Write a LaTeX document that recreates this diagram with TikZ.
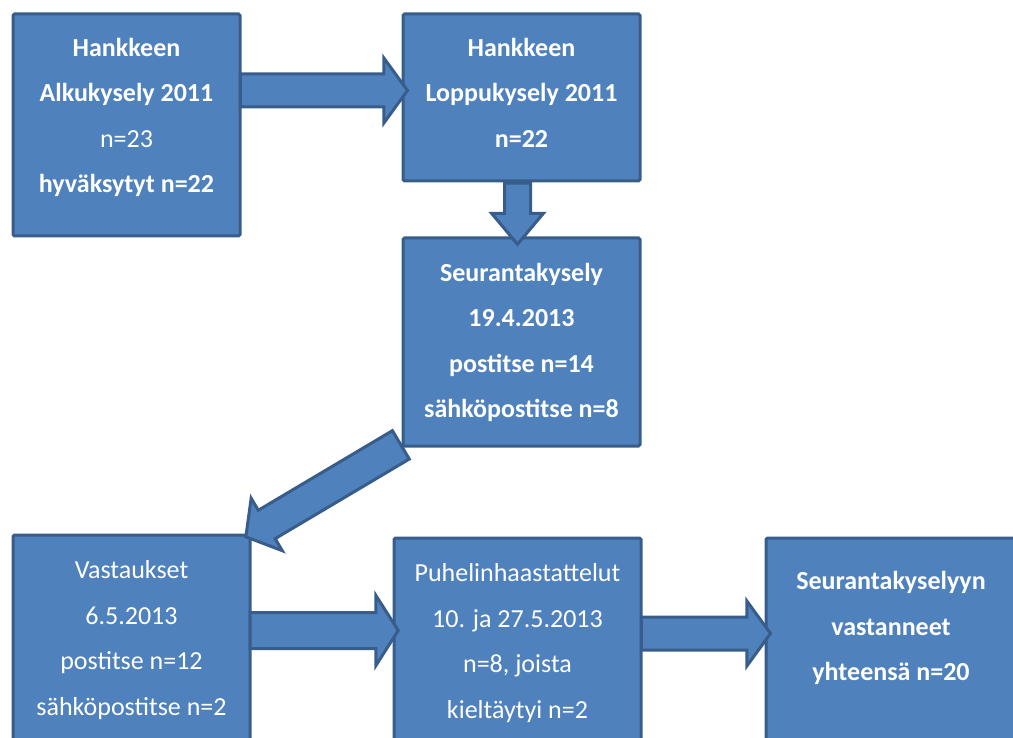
\documentclass[tikz,border=0pt]{standalone}
\usepackage{fontspec}
\setmainfont{Carlito}
\usetikzlibrary{positioning,calc,shapes.arrows}

\definecolor{boxfill}{HTML}{4F81BD}
\definecolor{boxline}{HTML}{385D8A}

\tikzset{
  stagebox/.style={draw=boxline, fill=boxfill, line width=3pt, rounded corners=1.5pt, inner sep=0pt},
  stagetext/.style={text=white, align=center, anchor=base, inner sep=0pt, font=\fontsize{26}{45.5}\selectfont},
  flow/.style={single arrow, draw=boxline, fill=boxfill, line width=3pt, inner xsep=0pt, line join=miter}
}

% #1 name, #2 options, #3 from, #4 to
\newcommand\blockarrow[4]{%
  \path let \p1=($(#4)-(#3)$) in
    node[flow, #2, minimum height={veclen(\x1,\y1)}, rotate={atan2(\y1,\x1)}] (#1) at ($(#3)!0.5!(#4)$) {};
}

\begin{document}
\begin{tikzpicture}[x=1pt, y=-1pt]
    \useasboundingbox (0,0) rectangle (1013,738);
    \clip (0,0) rectangle (1013,738);

    % boxes
    \node[stagebox, minimum width=227, minimum height=222] (alku) at (126.5,125) {};
    \node[stagebox, minimum width=237, minimum height=167] (loppu) at (521.5,97.5) {};
    \node[stagebox, minimum width=237, minimum height=208] (seuranta) at (521.5,342) {};
    \node[stagebox, minimum width=237, minimum height=230] (vastaukset) at (131.5,650) {};
    \node[stagebox, minimum width=247, minimum height=230] (puhelin) at (517.5,653) {};
    \node[stagebox, minimum width=250, minimum height=230] (yhteensa) at (891,653) {};

    % texts (base = baseline of the last line)
    \node[stagetext] (alkutxt) at ($(alku.north)+(0,180.5)$)
        {\textbf{Hankkeen}\\ \textbf{Alkukysely 2011}\\ n=23\\ \textbf{hyväksytyt n=22}};
    \node[stagetext, font=\fontsize{26}{45.5}\selectfont\bfseries] (lopputxt) at ($(loppu.north)+(0,135)$)
        {Hankkeen\\ Loppukysely 2011\\ n=22};
    \node[stagetext, font=\fontsize{26}{45.5}\selectfont\bfseries] (seurantatxt) at ($(seuranta.north)+(0,181)$)
        {Seurantakysely\\ 19.4.2013\\ postitse n=14\\ sähköpostitse n=8};
    \node[stagetext] (vastauksettxt) at ($(vastaukset.north)+(0,181.5)$)
        {Vastaukset\\ 6.5.2013\\ postitse n=12\\ sähköpostitse n=2};
    \node[stagetext] (puhelintxt) at ($(puhelin.north)+(0,181.5)$)
        {Puhelinhaastattelut\\ 10. ja 27.5.2013\\ n=8, joista\\ kieltäytyi n=2};
    \node[stagetext, font=\fontsize{26}{45.5}\selectfont\bfseries] (yhteensatxt) at ($(yhteensa.north)+(0,144)$)
        {Seurantakyselyyn\\ vastanneet\\ yhteensä n=20};

    % arrows
    \coordinate (a1) at ($(alku.north east)+(-7,78)$);
    \coordinate (a2) at ($(loppu.south)+(-4,-7)$);
    \coordinate (a3) at ($(seuranta.south west)+(5,-6)$);
    \coordinate (a4) at ($(vastaukset.north east)+(-7,97)$);
    \coordinate (a5) at ($(puhelin.north east)+(-7,97)$);
    \blockarrow{ar1}{inner ysep=15, single arrow head extend=16, single arrow tip angle=108}{a1}{loppu.west |- a1}
    \blockarrow{ar2}{inner ysep=11.5, single arrow head extend=13, single arrow tip angle=80}{a2}{seuranta.north -| a2}
    \blockarrow{ar3}{inner ysep=15, single arrow head extend=14, single arrow tip angle=103}{a3}{vastaukset.north east}
    \blockarrow{ar4}{inner ysep=16.5, single arrow head extend=17, single arrow tip angle=115}{a4}{puhelin.west |- a4}
    \blockarrow{ar5}{inner ysep=15, single arrow head extend=16, single arrow tip angle=108}{a5}{yhteensa.west |- a5}
\end{tikzpicture}
\end{document}
